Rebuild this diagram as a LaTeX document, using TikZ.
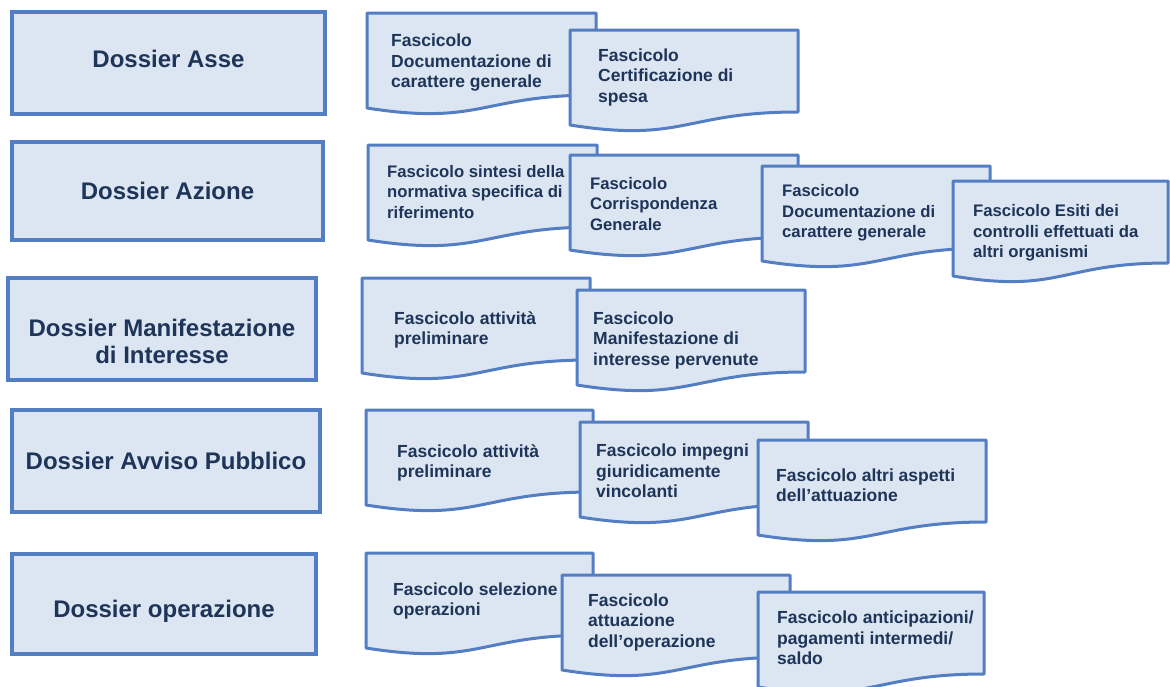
\documentclass[tikz,border=0pt]{standalone}
\usepackage{fontspec}
\setmainfont{Liberation Sans}
\usetikzlibrary{positioning}

\definecolor{bordo}{RGB}{84,126,196}
\definecolor{riemp}{RGB}{220,230,242}
\definecolor{testo}{RGB}{30,52,88}

\tikzset{
  dossier/.style={draw=bordo,fill=riemp,line width=3.5pt,inner sep=0pt},
  titolo/.style={text=testo,align=center,inner sep=0pt,
    font=\fontsize{24}{27}\selectfont\bfseries},
  foglio/.style={draw=bordo,fill=riemp,line width=3pt,line join=round},
  etichetta/.style={text=testo,align=left,anchor=west,inner sep=0pt,
    font=\fontsize{17.5}{20.5}\selectfont\bfseries},
}

% document shape: name, left, top, width, text indent, text drop, text
\newcommand{\fascicolo}[7]{%
  \path[foglio] (#2,#3) -- ({#2+#4},#3) -- ({#2+#4},{#3+82})
    .. controls ({#2+0.5*#4},{#3+82}) and ({#2+0.5*#4},{#3+113}) .. (#2,{#3+95}) -- cycle;
  \node[etichetta] (#1) at ({#2+#5},{#3+#6}) {#7};
}

\begin{document}
\begin{tikzpicture}[x=1pt,y=-1pt]
\useasboundingbox (0,0) rectangle (1170,686);

% dossier
\node[dossier,minimum width=313pt,minimum height=102pt] (asse) at (168.5,63) {};
\node[titolo] (asseT) at ([yshift=4.5pt]asse.center) {Dossier Asse};
\node[dossier,minimum width=311pt,minimum height=98pt] (azione) at (167.5,191) {};
\node[titolo] (azioneT) at (azione.center) {Dossier Azione};
\node[dossier,minimum width=308pt,minimum height=102pt] (manif) at (162,329) {};
\node[titolo] (manifT) at ([yshift=-12pt]manif.center) {Dossier Manifestazione\\di Interesse};
\node[dossier,minimum width=308pt,minimum height=102pt] (avviso) at (166,461) {};
\node[titolo] (avvisoT) at (avviso.center) {Dossier Avviso Pubblico};
\node[dossier,minimum width=304pt,minimum height=100pt] (operaz) at (164,604) {};
\node[titolo] (operazT) at ([yshift=-7pt]operaz.center) {Dossier operazione};

% fascicoli asse
\fascicolo{asseA}{367}{13}{229}{24}{50}{Fascicolo\\Documentazione di\\carattere generale}
\fascicolo{asseB}{570}{30}{228}{28}{47}{Fascicolo\\Certificazione di\\spesa}

% fascicoli azione
\begin{scope}[etichetta/.append style={font=\fontsize{16.7}{20.3}\selectfont\bfseries}]
\fascicolo{azioneA}{368}{145}{229}{19}{47}{Fascicolo sintesi della\\normativa specifica di\\riferimento}
\fascicolo{azioneB}{570}{155}{228}{20}{49}{Fascicolo\\Corrispondenza\\Generale}
\fascicolo{azioneC}{762}{166}{228}{20}{47}{Fascicolo\\Documentazione di\\carattere generale}
\fascicolo{azioneD}{953}{181}{215}{20}{52}{Fascicolo Esiti dei\\controlli effettuati da\\altri organismi}
\end{scope}

% fascicoli manifestazione
\fascicolo{manifA}{362}{278}{228}{32}{52}{Fascicolo attività\\preliminare}
\fascicolo{manifB}{577}{290}{228}{16}{50}{Fascicolo\\Manifestazione di\\interesse pervenute}

% fascicoli avviso
\fascicolo{avvisoA}{366}{410}{227}{31}{53}{Fascicolo attività\\preliminare}
\fascicolo{avvisoB}{580}{422}{228}{16}{49}{Fascicolo impegni\\giuridicamente\\vincolanti}
\fascicolo{avvisoC}{758}{440}{228}{18}{45}{Fascicolo altri aspetti\\dell’attuazione}

% fascicoli operazione
\fascicolo{operazA}{366}{553}{227}{27}{48}{Fascicolo selezione\\operazioni}
\fascicolo{operazB}{562}{575}{228}{26}{47}{Fascicolo\\attuazione\\dell’operazione}
\fascicolo{operazC}{758}{592}{226}{19}{46}{Fascicolo anticipazioni/\\pagamenti intermedi/\\saldo}
\end{tikzpicture}
\end{document}
